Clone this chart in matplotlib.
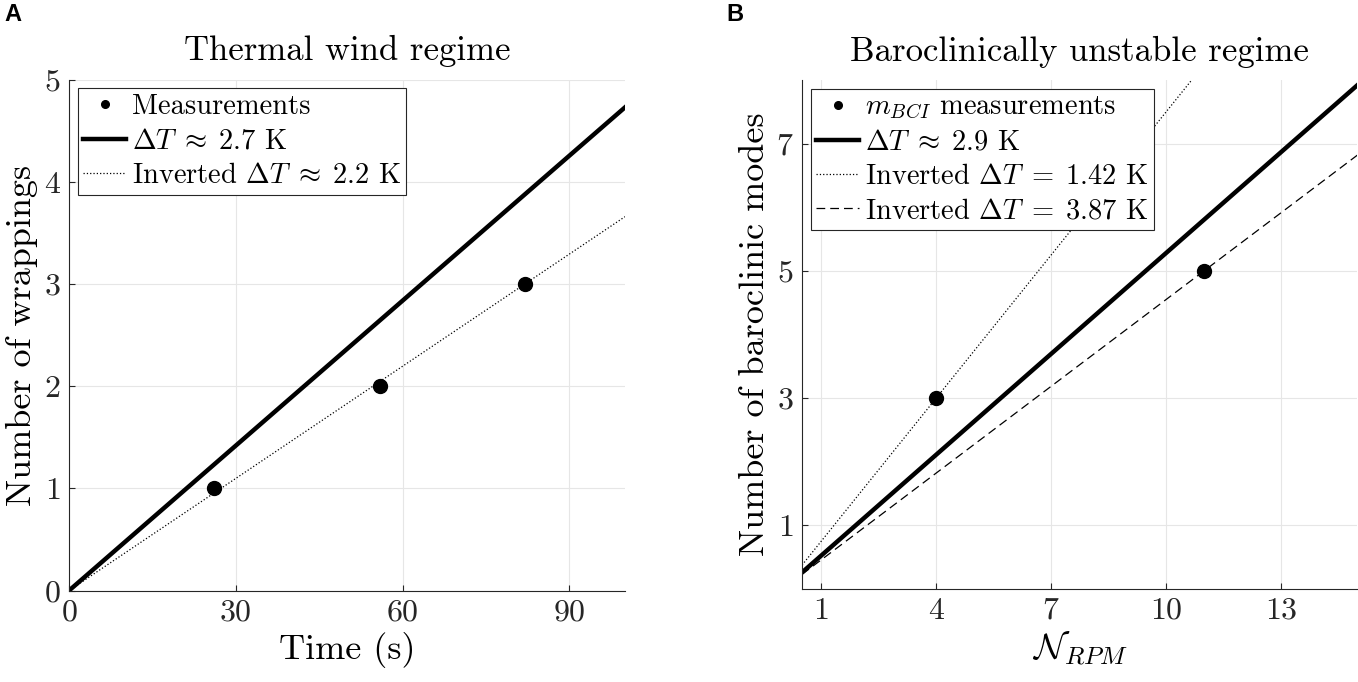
import matplotlib
matplotlib.use("Agg")
import matplotlib.pyplot as plt

plt.rcParams["font.family"] = "serif"
plt.rcParams["font.serif"] = ["cmr10"]
plt.rcParams["mathtext.fontset"] = "cm"
plt.rcParams["axes.formatter.use_mathtext"] = True

# Panel A: thermal wind regime
time_meas = [26, 56, 82]
wrap_meas = [1, 2, 3]
time_fit = [0, 100]
wrap_fit_thick = [0, 4.73]
wrap_fit_inv = [0, 3.66]

# Panel B: baroclinically unstable regime
rpm_meas = [4, 11]
modes_meas = [3, 5]
rpm_fit = [0.5, 15]
modes_fit_thick = [0.26, 7.92]
rpm_fit_dot = [0.5, 10.7]
modes_fit_dot = [0.375, 8.02]
modes_fit_dash = [0.23, 6.82]

GRID = dict(color="#e6e6e6", lw=0.8)
LEG = dict(loc="upper left", fontsize=20.5, frameon=True, fancybox=False,
           framealpha=1, edgecolor="#262626", borderaxespad=0.3,
           handlelength=1.5, handletextpad=0.2, borderpad=0.2,
           labelspacing=0.28, markerscale=0.55)


def style_axes(ax):
    for s in ["top", "right"]:
        ax.spines[s].set_visible(False)
    for s in ["left", "bottom"]:
        ax.spines[s].set_color("#262626")
        ax.spines[s].set_linewidth(0.8)
    ax.tick_params(direction="in", length=4, labelsize=23, colors="#262626", pad=6)
    ax.grid(True, **GRID)
    ax.set_axisbelow(True)


fig = plt.figure(figsize=(13.58, 6.82), dpi=100)

ax1 = fig.add_axes([0.0508, 0.134, 0.4094, 0.749])
ax1.plot(time_meas, wrap_meas, "o", color="black", ms=10, label="Measurements", zorder=4)
ax1.plot(time_fit, wrap_fit_thick, "-", color="black", lw=3.2,
         label=r"$\Delta T \;\approx\; 2.7$ K")
ax1.plot(time_fit, wrap_fit_inv, ":", color="black", lw=0.9,
         label=r"Inverted $\Delta T \;\approx\; 2.2$ K")
ax1.set_xlim(0, 100)
ax1.set_ylim(0, 5)
ax1.set_xticks([0, 30, 60, 90])
ax1.set_yticks([0, 1, 2, 3, 4, 5])
style_axes(ax1)
ax1.set_xlabel("Time (s)", fontsize=26)
ax1.set_ylabel("Number of wrappings", fontsize=26)
ax1.set_title("Thermal wind regime", fontsize=25, pad=14)
leg1 = ax1.legend(**LEG)
leg1.get_frame().set_linewidth(0.8)

ax2 = fig.add_axes([0.5906, 0.1364, 0.4090, 0.7463])
ax2.plot(rpm_meas, modes_meas, "o", color="black", ms=10,
         label=r"$m_{BCI}$ measurements", zorder=4)
ax2.plot(rpm_fit, modes_fit_thick, "-", color="black", lw=3.2,
         label=r"$\Delta T \;\approx\; 2.9$ K")
ax2.plot(rpm_fit_dot, modes_fit_dot, ":", color="black", lw=0.9,
         label=r"Inverted $\Delta T \;=\; 1.42$ K")
ax2.plot(rpm_fit, modes_fit_dash, "--", color="black", lw=0.9, dashes=(7, 4),
         label=r"Inverted $\Delta T \;=\; 3.87$ K")
ax2.set_xlim(0.5, 15)
ax2.set_ylim(0, 8)
ax2.set_xticks([1, 4, 7, 10, 13])
ax2.set_yticks([1, 3, 5, 7])
style_axes(ax2)
ax2.set_xlabel(r"$\mathcal{N}_{RPM}$", fontsize=26)
ax2.set_ylabel("Number of baroclinic modes", fontsize=26)
ax2.set_title("Baroclinically unstable regime", fontsize=25, pad=14)
leg2 = ax2.legend(**LEG)
leg2.get_frame().set_linewidth(0.8)

fig.text(0.003, 0.995, "A", fontsize=17, fontweight="bold", family="Liberation Sans",
         ha="left", va="top")
fig.text(0.535, 0.995, "B", fontsize=17, fontweight="bold", family="Liberation Sans",
         ha="left", va="top")

fig.savefig("out.png", dpi=100)
